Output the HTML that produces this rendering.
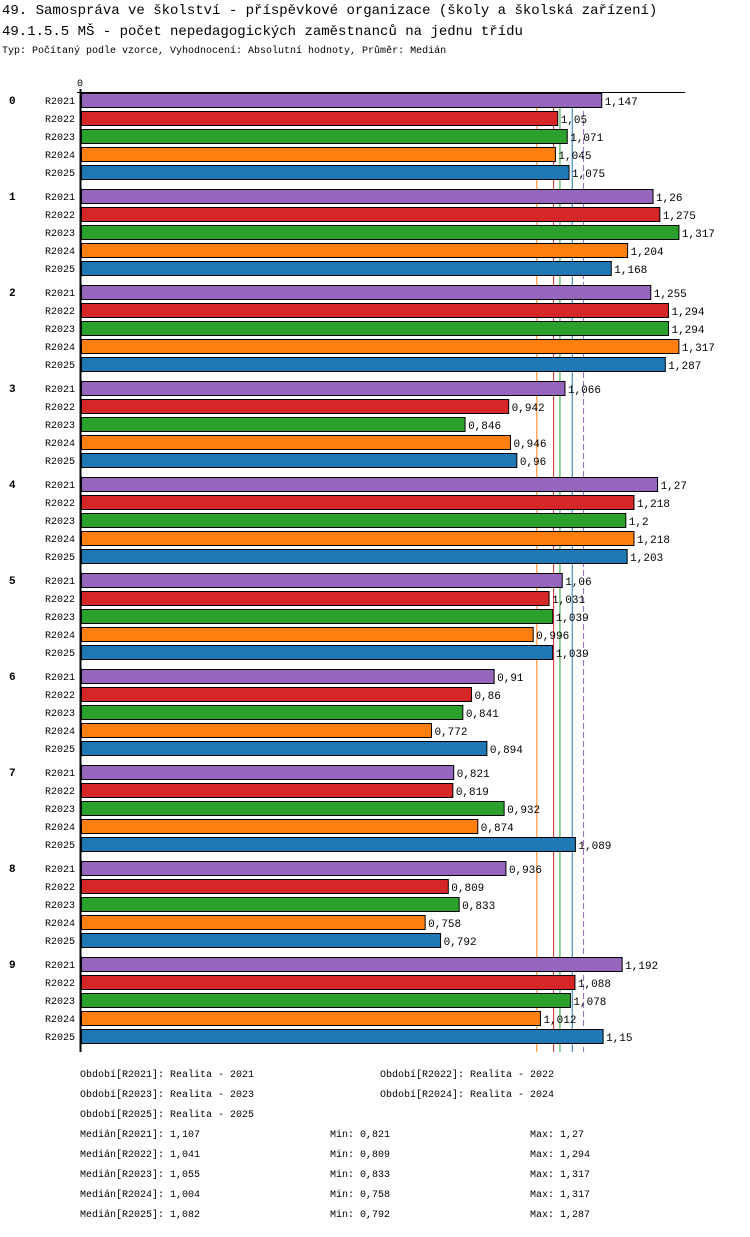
<!DOCTYPE html>
<html><head><meta charset="utf-8"><style>
body{margin:0;background:#fff;width:750px;height:1232px;overflow:hidden;font-family:"Liberation Mono","DejaVu Sans Mono",monospace;}
svg text{font-family:"Liberation Mono","DejaVu Sans Mono",monospace;}
</style></head><body>
<svg id="c" width="750" height="1232" xmlns="http://www.w3.org/2000/svg">
<text x="2" y="14" font-size="14" fill="#000">49. Samospráva ve školství - příspěvkové organizace (školy a školská zařízení)</text>
<text x="2" y="35" font-size="14" fill="#000">49.1.5.5 MŠ - počet nepedagogických zaměstnanců na jednu třídu</text>
<text x="2" y="53" font-size="10" fill="#000">Typ: Počítaný podle vzorce, Vyhodnocení: Absolutní hodnoty, Průměr: Medián</text>
<g id="plot"></g>
<g id="foot" font-size="10" fill="#000"></g>
</svg>
<script>
const groups=["0","1","2","3","4","5","6","7","8","9"];
const series=["R2021","R2022","R2023","R2024","R2025"];
const colors=["#9467bd","#d62728","#2ca02c","#ff7f0e","#1f77b4"];
const v2021=[1.147,1.26,1.255,1.066,1.27,1.06,0.91,0.821,0.936,1.192];
const v2022=[1.05,1.275,1.294,0.942,1.218,1.031,0.86,0.819,0.809,1.088];
const v2023=[1.071,1.317,1.294,0.846,1.2,1.039,0.841,0.932,0.833,1.078];
const v2024=[1.045,1.204,1.317,0.946,1.218,0.996,0.772,0.874,0.758,1.012];
const v2025=[1.075,1.168,1.287,0.96,1.203,1.039,0.894,1.089,0.792,1.15];
const medians=[1.107,1.041,1.055,1.004,1.082];
const mins=[0.821,0.809,0.833,0.758,0.792];
const maxs=[1.27,1.294,1.317,1.317,1.287];
const vals=[v2021,v2022,v2023,v2024,v2025];
const NS="http://www.w3.org/2000/svg";
const plot=document.getElementById('plot');
const x=v=>81+v*454;
const y=(g,s)=>93+g*96+s*18;
function mk(t,a,p){const e=document.createElementNS(NS,t);for(const k in a)e.setAttribute(k,a[k]);(p||plot).appendChild(e);return e;}
const fmt=v=>String(v).replace('.',',');
const medOrder=[3,1,2,4,0];
medOrder.forEach(i=>{
 const l=mk('line',{x1:x(medians[i]),x2:x(medians[i]),y1:93,y2:1052,stroke:colors[i],'stroke-width':1});
 if(i===0)l.setAttribute('stroke-dasharray','6,3');
 
 
});
let a=mk('line',{x1:77,x2:685,y1:92.5,y2:92.5,stroke:'#000','stroke-width':1});


a=mk('line',{x1:80.5,x2:80.5,y1:89,y2:1052,stroke:'#000','stroke-width':2});


let t=mk('text',{x:80,y:86,'font-size':10,'text-anchor':'middle'});t.textContent='0';


groups.forEach((g,gi)=>{
 let gl=mk('text',{x:9,y:y(gi,0)+11,'font-size':11,'font-weight':'bold'});gl.textContent=g;
 
 
 series.forEach((s,si)=>{
  const v=vals[si][gi],yy=y(gi,si);
  let lb=mk('text',{x:75,y:yy+11,'font-size':10,'text-anchor':'end'});lb.textContent=s;
  
  
  let r=mk('rect',{x:81.5,y:yy+0.5,width:x(v)-81.5,height:14,fill:colors[si],stroke:'#000','stroke-width':1});
  
  
  let vt=mk('text',{x:x(v)+3,y:yy+12,'font-size':11});vt.textContent=fmt(v);
  
  
 });
});
const foot=document.getElementById('foot');
const per=[["Období[R2021]: Realita - 2021",80,1077],["Období[R2022]: Realita - 2022",380,1077],["Období[R2023]: Realita - 2023",80,1097],["Období[R2024]: Realita - 2024",380,1097],["Období[R2025]: Realita - 2025",80,1117]];
per.forEach(p=>{let e=mk('text',{x:p[1],y:p[2]},foot);e.textContent=p[0];
 
 });
series.forEach((s,i)=>{
 const yy=1137+i*20;
 let e=mk('text',{x:80,y:yy},foot);e.textContent='Medián['+s+']: '+fmt(medians[i]);
 
 
 e=mk('text',{x:330,y:yy},foot);e.textContent='Min: '+fmt(mins[i]);
 
 
 e=mk('text',{x:530,y:yy},foot);e.textContent='Max: '+fmt(maxs[i]);
 
 
});
</script>
</body></html>
